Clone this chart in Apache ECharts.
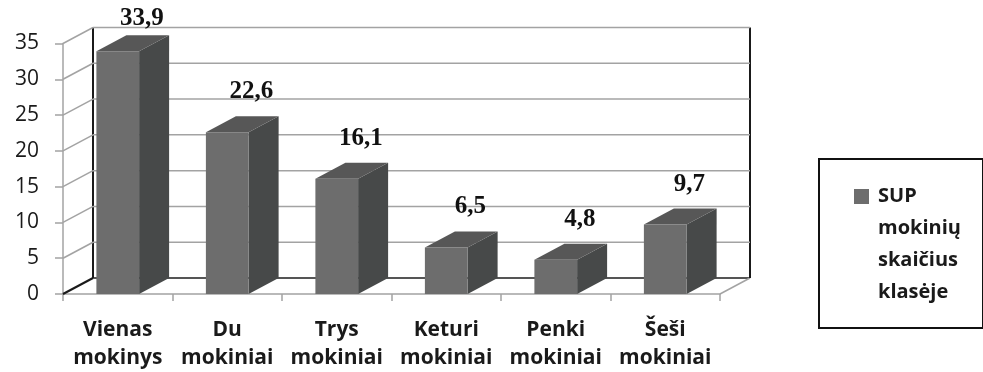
<!DOCTYPE html>
<html>
<head>
<meta charset="utf-8">
<script src="https://cdn.jsdelivr.net/npm/echarts@6/dist/echarts.min.js"></script>
<style>
  html, body { margin: 0; padding: 0; background: #ffffff; }
  #chart { width: 983px; height: 372px; }
</style>
</head>
<body>
<div id="chart"></div>
<script>
// Class-size shares of SUP pupils, drawn as pseudo-3D columns
const categories = ['Vienas\nmokinys', 'Du\nmokiniai', 'Trys\nmokiniai', 'Keturi\nmokiniai', 'Penki\nmokiniai', 'Šeši\nmokiniai'];
const values = [33.9, 22.6, 16.1, 6.5, 4.8, 9.7];
const yTicks = [0, 5, 10, 15, 20, 25, 30, 35];
const seriesName = 'SUP\nmokinių\nskaičius\nklasėje';

// depth of the 3D box (pixels to the right / up)
const DX = 30, DY = -16;
const GRID_COLOR = '#a3a3a3';
const FRONT = '#6d6d6d', SIDE = '#474949', TOP = '#575757';

const chart = echarts.init(document.getElementById('chart'));

function line(x1, y1, x2, y2, stroke, w) {
  return { type: 'line', shape: { x1, y1, x2, y2 }, style: { stroke, lineWidth: w || 1.5 } };
}

// walls: back gridlines, side-wall diagonals, floor edges
function renderFrame(params, api) {
  const cs = params.coordSys;
  const left = cs.x, right = cs.x + cs.width;
  const v = api.value(0);
  const y = api.coord([0, v])[1];
  const kids = [];
  const isFloor = v === yTicks[0];
  kids.push(line(left, y, left + DX, y + DY, isFloor ? '#1a1a1a' : GRID_COLOR, isFloor ? 2 : 1.5));
  kids.push(line(left + DX, y + DY, right + DX, y + DY, isFloor ? '#555' : GRID_COLOR, isFloor ? 2 : 1.5));
  if (isFloor) {
    const yTop = api.coord([0, yTicks[yTicks.length - 1]])[1];
    kids.push(line(right, y, right + DX, y + DY, GRID_COLOR, 1.5));
    kids.push(line(left + DX, y + DY, left + DX, yTop + DY, '#1a1a1a', 2));
    kids.push(line(right + DX, y + DY, right + DX, yTop + DY, '#1a1a1a', 2));
  }
  return { type: 'group', children: kids };
}

// one column: front face, side face, top face and value label
function renderBar(params, api) {
  const idx = api.value(0), val = api.value(1);
  const base = api.coord([idx, 0]);
  const top = api.coord([idx, val]);
  const bw = api.size([1, 0])[0] * 0.39;
  const x0 = base[0] - bw / 2, x1 = base[0] + bw / 2;
  const yb = base[1], yt = top[1];
  const plotTop = api.coord([idx, yTicks[yTicks.length - 1]])[1] + DY;
  const labelBase = Math.max(yt + DY - 12, plotTop + 4);
  return {
    type: 'group',
    children: [
      { type: 'polygon', shape: { points: [[x1, yt], [x1 + DX, yt + DY], [x1 + DX, yb + DY], [x1, yb]] }, style: { fill: SIDE } },
      { type: 'polygon', shape: { points: [[x0, yt], [x0 + DX, yt + DY], [x1 + DX, yt + DY], [x1, yt]] }, style: { fill: TOP } },
      { type: 'rect', shape: { x: x0, y: yt, width: bw, height: yb - yt }, style: { fill: FRONT } },
      {
        type: 'text',
        style: {
          x: base[0] + 24, y: labelBase,
          text: String(val).replace('.', ','),
          font: 'bold 25px "Liberation Serif", "Times New Roman", serif',
          fill: '#111', align: 'center', verticalAlign: 'bottom'
        },
        z2: 10
      }
    ]
  };
}

chart.setOption({
  animation: false,
  backgroundColor: '#ffffff',
  grid: { left: 63, right: 263, top: 43.5, bottom: 77 },
  xAxis: {
    type: 'category',
    data: categories,
    axisLine: { lineStyle: { color: GRID_COLOR, width: 1.5 } },
    axisTick: { show: true, length: 7, interval: 0, lineStyle: { color: GRID_COLOR, width: 1.5 } },
    axisLabel: {
      interval: 0, margin: 22,
      fontFamily: '"Open Sans", sans-serif', fontWeight: 'bold', fontSize: 21,
      lineHeight: 28, color: '#1a1a1a'
    },
    splitLine: { show: false }
  },
  yAxis: {
    type: 'value',
    min: 0, max: 35, interval: 5,
    axisLine: { show: true, lineStyle: { color: GRID_COLOR, width: 1.5 } },
    axisTick: { show: true, length: 8, lineStyle: { color: GRID_COLOR, width: 1.5 } },
    axisLabel: { margin: 24, fontFamily: '"Open Sans", sans-serif', fontSize: 21, color: '#1a1a1a' },
    splitLine: { show: false }
  },
  series: [
    {
      type: 'custom',
      name: 'frame',
      z: 1,
      clip: false,
      renderItem: renderFrame,
      data: yTicks.map(v => [v])
    },
    {
      type: 'custom',
      name: seriesName,
      z: 3,
      clip: false,
      renderItem: renderBar,
      encode: { x: 0, y: 1 },
      data: values.map((v, i) => [i, v])
    }
  ],
  graphic: [
    {
      type: 'group',
      left: 818, top: 158,
      children: [
        { type: 'rect', shape: { x: 0, y: 0, width: 164, height: 169 }, style: { fill: '#fff', stroke: '#111', lineWidth: 2 } },
        { type: 'rect', shape: { x: 35, y: 30, width: 15, height: 15 }, style: { fill: FRONT } },
        {
          type: 'text',
          style: {
            x: 59, y: 21, text: seriesName,
            font: 'bold 20px "Open Sans", sans-serif', lineHeight: 32,
            fill: '#1a1a1a', verticalAlign: 'top'
          }
        }
      ]
    }
  ]
});
</script>
</body>
</html>
